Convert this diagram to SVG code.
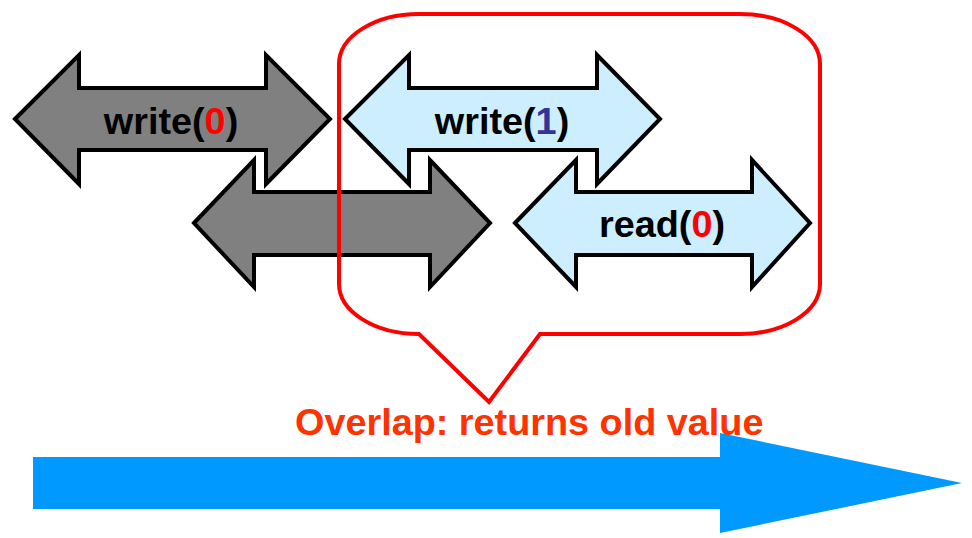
<svg xmlns="http://www.w3.org/2000/svg" width="972" height="538" viewBox="0 0 972 538">
<style>
.arr{stroke:#000;stroke-width:4;stroke-linejoin:miter}
.gray{fill:#808080}
.light{fill:#cceeff}
.lbl{font-family:"Liberation Sans",Arial,sans-serif;font-weight:bold;font-size:37.8px;fill:#000}
.red{fill:#ff0000}
.blue{fill:#333399}
.note{font-family:"Liberation Sans",Arial,sans-serif;font-weight:bold;font-size:37.8px;fill:#ff3300}
</style>
<rect width="972" height="538" fill="#fff"/>
<g id="timeline">
<polygon points="33,457 720,457 720,433 962,483 720,533 720,509 33,509" fill="#0099ff"/>
</g>
<g id="write0">
<polygon class="arr gray" points="15,119 79,55 79,88 266,88 266,55 330,119 266,184 266,150 79,150 79,184"/>
<text class="lbl" x="171" y="134" text-anchor="middle">write(<tspan class="red">0</tspan>)</text>
</g>
<g id="write0b">
<polygon class="arr gray" points="194,223 254,160 254,192 430,192 430,160 490,223 430,287 430,255 254,255 254,287"/>
</g>
<g id="write1">
<polygon class="arr light" points="345,119 409,55 409,88 597,88 597,55 660,119 597,184 597,150 409,150 409,184"/>
<text class="lbl" x="502" y="134" text-anchor="middle">write(<tspan class="blue">1</tspan>)</text>
</g>
<g id="read0">
<polygon class="arr light" points="515,223 576,160 576,192 752,192 752,160 810,223 752,287 752,255 576,255 576,287"/>
<text class="lbl" x="662" y="237" text-anchor="middle">read(<tspan class="red">0</tspan>)</text>
</g>
<g id="callout">
<path d="M419,14 L740,14 A80,50 0 0 1 820,64 L820,284 A80,50 0 0 1 740,334 L540,334 L489,402 L419,334 A80,50 0 0 1 339,284 L339,64 A80,50 0 0 1 419,14 Z" fill="none" stroke="#ff0000" stroke-width="4"/>
<text class="note" x="295" y="435">Overlap: returns old value</text>
</g>
<g id="connectors"/>
</svg>
